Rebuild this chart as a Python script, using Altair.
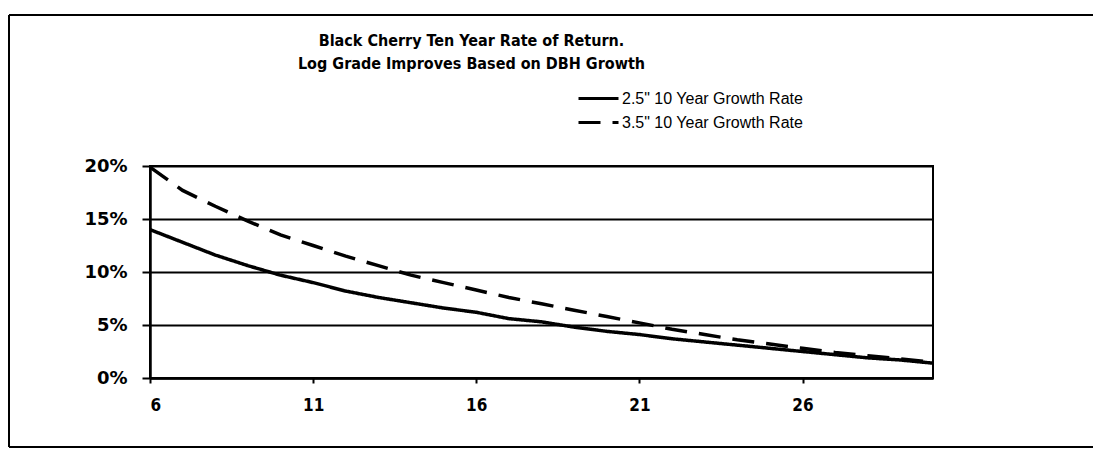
import altair as alt
import pandas as pd

dbh = list(range(6, 31))
rate_25 = [14.0, 12.8, 11.6, 10.6, 9.7, 9.0, 8.2, 7.6, 7.1, 6.6, 6.2, 5.6, 5.3,
           4.8, 4.4, 4.1, 3.7, 3.4, 3.1, 2.8, 2.5, 2.2, 1.9, 1.7, 1.4]
rate_35 = [19.9, 17.7, 16.2, 14.8, 13.5, 12.5, 11.5, 10.6, 9.7, 9.0, 8.3, 7.6, 7.0,
           6.4, 5.8, 5.2, 4.6, 4.1, 3.6, 3.2, 2.8, 2.4, 2.1, 1.8, 1.5]
series_names = ['2.5" 10 Year Growth Rate', '3.5" 10 Year Growth Rate']
x_ticks = [6, 11, 16, 21, 26]
y_ticks = [0, 0.05, 0.10, 0.15, 0.20]
title_lines = ["Black Cherry Ten Year Rate of Return.",
               "Log Grade Improves  Based on DBH Growth"]

rows = []
for name, vals in zip(series_names, [rate_25, rate_35]):
    for d, v in zip(dbh, vals):
        rows.append({"dbh": d, "rate": v / 100.0, "series": name})
df = pd.DataFrame(rows)

lines = alt.Chart(df).mark_line(strokeWidth=3.5, color="black").encode(
    x=alt.X("dbh:Q", scale=alt.Scale(domain=[6, 30], nice=False, zero=False),
            axis=alt.Axis(values=x_ticks, title=None, grid=False, tickSize=5,
                          labelPadding=14, labelFont="DejaVu Sans Condensed",
                          labelFontWeight="bold", labelFontSize=17,
                          labelColor="black", domainWidth=2.5, tickWidth=2)),
    y=alt.Y("rate:Q", scale=alt.Scale(domain=[0, 0.2], nice=False),
            axis=alt.Axis(values=y_ticks, format=".0%", title=None, grid=True,
                          gridColor="black", gridWidth=2, gridOpacity=1,
                          tickSize=8, labelPadding=15, labelFont="DejaVu Sans",
                          labelFontWeight="bold", labelFontSize=18,
                          labelColor="black", domainWidth=2.5, tickWidth=2)),
    strokeDash=alt.StrokeDash(
        "series:N",
        scale=alt.Scale(domain=series_names, range=[[1, 0], [22, 12]]),
        legend=alt.Legend(title=None, orient="none", legendX=437, legendY=-79,
                          symbolType="M-2,0H2", symbolSize=400,
                          symbolStrokeWidth=3, symbolStrokeColor="black",
                          labelFont="Liberation Sans", labelFontSize=16,
                          labelLimit=400,
                          labelColor="black", labelOffset=12, rowPadding=4)),
)

# outer frame (left, top and bottom edges; right edge is off the page)
frame_left = alt.Chart(alt.Data(values=[{}])).mark_rule(stroke="black", strokeWidth=2).encode(
    x=alt.value(-141), y=alt.value(-151), y2=alt.value(281))
frame_top = alt.Chart(alt.Data(values=[{}])).mark_rule(stroke="black", strokeWidth=2).encode(
    x=alt.value(-141), x2=alt.value(945), y=alt.value(-151))
frame_bottom = alt.Chart(alt.Data(values=[{}])).mark_rule(stroke="black", strokeWidth=2).encode(
    x=alt.value(-141), x2=alt.value(945), y=alt.value(281))

chart = alt.layer(frame_left, frame_top, frame_bottom, lines).properties(
    width=783, height=212,
    autosize=alt.AutoSizeParams(type="none"),
    padding={"left": 142, "top": 158, "right": 160, "bottom": 70},
    title=alt.Title(title_lines, font="Liberation Sans Narrow, DejaVu Sans Condensed, sans-serif",
                    fontSize=16, fontWeight="bold", color="black", anchor="middle",
                    dx=-70, dy=68, offset=10, lineHeight=23),
).configure_view(stroke="black", strokeWidth=2).configure_axis(
    domainColor="black", tickColor="black"
)

chart.save("out.html", embed_options={"renderer": "svg", "actions": False})
